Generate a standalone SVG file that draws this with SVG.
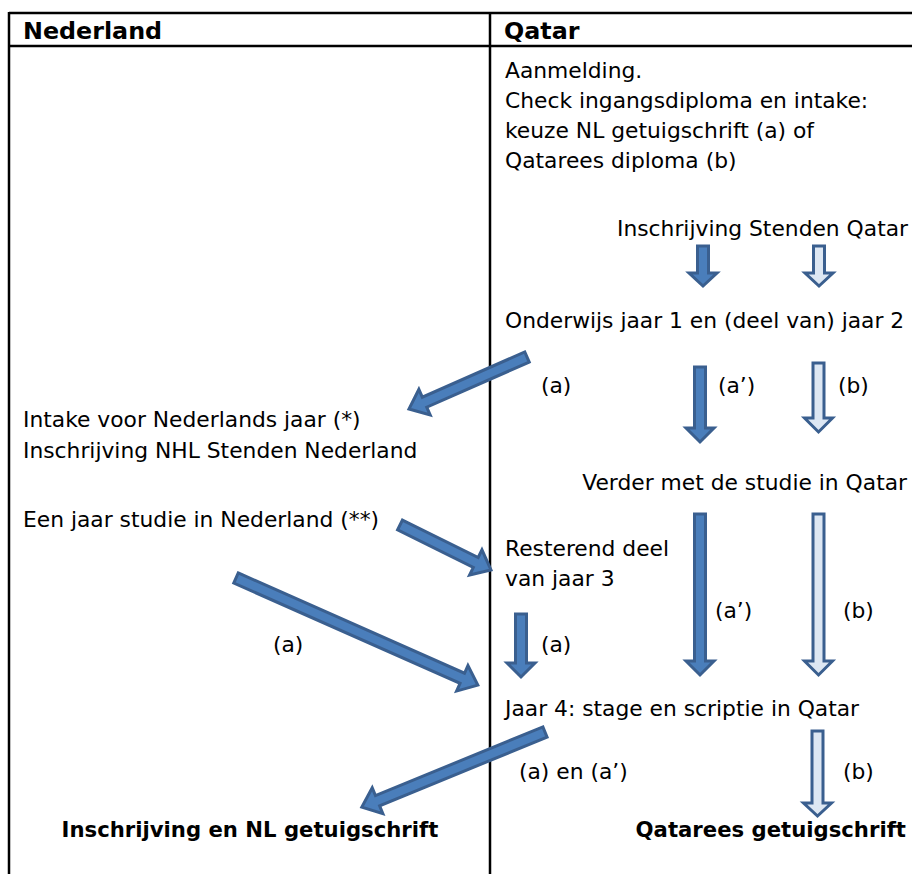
<svg xmlns="http://www.w3.org/2000/svg" width="912" height="874" viewBox="0 0 912 874">
<style>
.t{font-family:"DejaVu Sans",Verdana,sans-serif;font-size:21.8px;fill:#000}
.h{font-family:"DejaVu Sans",Verdana,sans-serif;font-size:23.8px;font-weight:bold;fill:#000}
.b{font-family:"DejaVu Sans",Verdana,sans-serif;font-size:21.2px;font-weight:bold;fill:#000}
.grid{stroke:#000;stroke-width:2.5;fill:none}
.aa{fill:#4A7EBB;stroke:#3A5F8F;stroke-width:3;stroke-linejoin:miter}
.ab{fill:#DDE7F3;stroke:#3A5F8F;stroke-width:3;stroke-linejoin:miter}
</style>
<rect width="912" height="874" fill="#fff"/>
<g id="table">
<line class="grid" x1="9" y1="13" x2="912" y2="13"/>
<line class="grid" x1="9" y1="46" x2="912" y2="46"/>
<line class="grid" x1="9" y1="12" x2="9" y2="874"/>
<line class="grid" x1="490" y1="12" x2="490" y2="874"/>
<text class="h" x="23" y="39">Nederland</text>
<text class="h" x="504" y="39">Qatar</text>
</g>
<g id="n-aanmelding">
<text class="t" x="505" y="78">Aanmelding.</text>
<text class="t" x="505" y="108">Check ingangsdiploma en intake:</text>
<text class="t" x="505" y="138">keuze NL getuigschrift (a) of</text>
<text class="t" x="505" y="168">Qatarees diploma (b)</text>
</g>
<g id="n-inschrijving-qatar"><text class="t" x="908" y="236" text-anchor="end">Inschrijving Stenden Qatar</text></g>
<g id="n-onderwijs"><text class="t" x="505" y="328">Onderwijs jaar 1 en (deel van) jaar 2</text></g>
<g id="n-intake">
<text class="t" x="23" y="427">Intake voor Nederlands jaar (*)</text>
<text class="t" x="23" y="458">Inschrijving NHL Stenden Nederland</text>
</g>
<g id="n-verder"><text class="t" x="907" y="490" text-anchor="end">Verder met de studie in Qatar</text></g>
<g id="n-jaar-nl"><text class="t" x="23" y="527">Een jaar studie in Nederland (**)</text></g>
<g id="n-resterend">
<text class="t" x="505" y="556">Resterend deel</text>
<text class="t" x="505" y="586">van jaar 3</text>
</g>
<g id="n-jaar4"><text class="t" x="505" y="716">Jaar 4: stage en scriptie in Qatar</text></g>
<g id="n-nl-getuigschrift"><text class="b" x="250" y="837" text-anchor="middle">Inschrijving en NL getuigschrift</text></g>
<g id="n-qa-getuigschrift"><text class="b" x="906" y="837" text-anchor="end">Qatarees getuigschrift</text></g>
<g id="connectors">
<path class="aa" d="M697.5,246 H708.5 V273 H717 L703,286 L689,273 H697.5 Z"/>
<path class="ab" d="M813.5,246 H824.5 V273 H833 L819,286 L805,273 H813.5 Z"/>
<path class="aa" d="M694.5,367 H705.5 V428 H714 L700,442 L686,428 H694.5 Z"/>
<path class="ab" d="M813,363 H824 V418 H832.5 L818.5,432 L804.5,418 H813 Z"/>
<path class="aa" d="M515.5,614 H526.5 V663 H535 L521,677 L507,663 H515.5 Z"/>
<path class="aa" d="M694.5,514 H705.5 V661 H714 L700,675 L686,661 H694.5 Z"/>
<path class="ab" d="M813,514 H824 V661 H832.5 L818.5,675 L804.5,661 H813 Z"/>
<path class="ab" d="M812,731 H823 V803 H831.5 L817.5,816 L803.5,803 H812 Z"/>
<path class="aa" transform="translate(527,357) rotate(156.2)" d="M0,-5.5 H112 V-14 L129,0 L112,14 V5.5 H0 Z"/>
<path class="aa" transform="translate(400,525) rotate(26.3)" d="M0,-5.5 H84.5 V-14 L101.5,0 L84.5,14 V5.5 H0 Z"/>
<path class="aa" transform="translate(236,578) rotate(23.9)" d="M0,-5.5 H247.5 V-14 L264.5,0 L247.5,14 V5.5 H0 Z"/>
<path class="aa" transform="translate(545,732) rotate(157.7)" d="M0,-5.5 H181 V-14 L198,0 L181,14 V5.5 H0 Z"/>
<text class="t" x="541" y="393">(a)</text>
<text class="t" x="718" y="393">(a’)</text>
<text class="t" x="838" y="393">(b)</text>
<text class="t" x="715" y="618">(a’)</text>
<text class="t" x="843" y="618">(b)</text>
<text class="t" x="273" y="652">(a)</text>
<text class="t" x="541" y="652">(a)</text>
<text class="t" x="519" y="779">(a) en (a’)</text>
<text class="t" x="843" y="779">(b)</text>
</g>
</svg>
